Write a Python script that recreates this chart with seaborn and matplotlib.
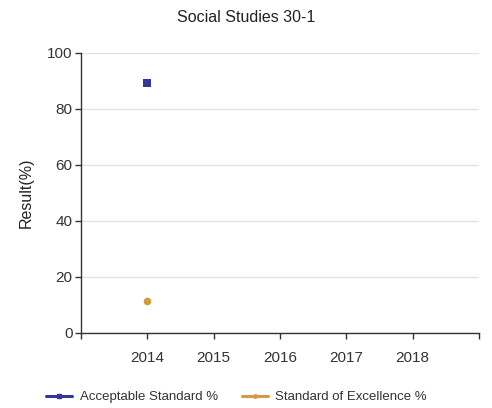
import pandas as pd
import seaborn as sns
import matplotlib.pyplot as plt
from matplotlib.lines import Line2D

years = [2014]
acceptable = [89.2]
excellence = [11.4]
series_names = ["Acceptable Standard %", "Standard of Excellence %"]
tick_years = [2013, 2014, 2015, 2016, 2017, 2018, 2019]
tick_labels = ["", "2014", "2015", "2016", "2017", "2018", ""]

df = pd.DataFrame({
    "Year": years * 2,
    "Result": acceptable + excellence,
    "Series": [series_names[0]] * len(years) + [series_names[1]] * len(years),
})

sns.set_style("white")
plt.rcParams["font.family"] = ["Liberation Sans", "DejaVu Sans"]

fig = plt.figure(figsize=(4.92, 4.08), dpi=100)
ax = fig.add_axes([81 / 492, 1 - 333 / 408, 398 / 492, 280 / 408])

colors = {series_names[0]: "#35359a", series_names[1]: "#d49b3e"}
markers = {series_names[0]: "s", series_names[1]: "o"}
sns.lineplot(data=df, x="Year", y="Result", hue="Series", style="Series",
             markers=markers, dashes=False, palette=colors, markersize=5.5,
             markeredgewidth=0, ax=ax, legend=False)

ax.set_xlim(2013, 2019)
ax.set_ylim(0, 100)
ax.set_xticks(tick_years)
ax.set_xticklabels(tick_labels)
ax.set_yticks([0, 20, 40, 60, 80, 100])
ax.yaxis.grid(True, color="#e3e3e3", linewidth=1)
ax.set_axisbelow(True)
for side in ["top", "right"]:
    ax.spines[side].set_visible(False)
for side in ["left", "bottom"]:
    ax.spines[side].set_color("#333333")
    ax.spines[side].set_linewidth(1)
ax.tick_params(axis="both", direction="out", length=4, width=1, color="#333333",
               labelsize=11, labelcolor="#333333", pad=2, bottom=True, left=True)
ax.tick_params(axis="x", pad=9)
ax.set_xlabel("")
ax.set_ylabel("Result(%)", fontsize=11.5, color="#222222", labelpad=10)
fig.text(246 / 492, 1 - 17 / 408, "Social Studies 30-1", ha="center", va="center",
         fontsize=11.5, color="#222222")

handles = [Line2D([], [], color=colors[n], marker=markers[n], markersize=2.5, linewidth=2.2)
           for n in series_names]
fig.legend(handles, series_names, loc="center left", bbox_to_anchor=(46 / 492, 1 - 397 / 408),
           ncol=2, frameon=False, fontsize=9.5, handlelength=2.0, handletextpad=0.55,
           columnspacing=1.8, borderpad=0, borderaxespad=0, labelcolor="#333333")

plt.savefig("out.png", dpi=100)
